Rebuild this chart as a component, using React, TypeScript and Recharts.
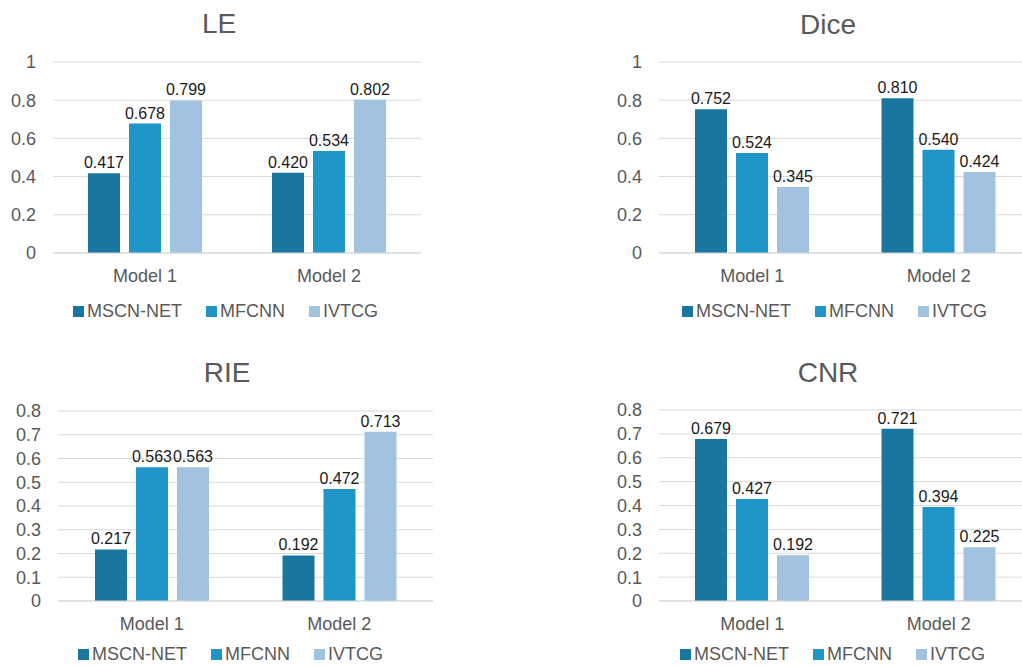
import React from 'react';
import { BarChart, Bar, XAxis, YAxis, CartesianGrid, LabelList } from 'recharts';

const models = ['Model 1', 'Model 2'];
const seriesNames = ['MSCN-NET', 'MFCNN', 'IVTCG'];
const seriesColors = ['#19769f', '#1f95c8', '#a2c3df'];

const leMscn = [0.417, 0.42];
const leMfcnn = [0.678, 0.534];
const leIvtcg = [0.799, 0.802];

const diceMscn = [0.752, 0.81];
const diceMfcnn = [0.524, 0.54];
const diceIvtcg = [0.345, 0.424];

const rieMscn = [0.217, 0.192];
const rieMfcnn = [0.563, 0.472];
const rieIvtcg = [0.563, 0.713];

const cnrMscn = [0.679, 0.721];
const cnrMfcnn = [0.427, 0.394];
const cnrIvtcg = [0.192, 0.225];

const ticksFifths = [0, 0.2, 0.4, 0.6, 0.8, 1];
const ticksTenths = [0, 0.1, 0.2, 0.3, 0.4, 0.5, 0.6, 0.7, 0.8];

const FONT = '"Liberation Sans", Arial, sans-serif';
const GREY = '#595959';
const GRID = '#d9d9d9';

interface PanelProps {
  title: string;
  series: number[][];
  ticks: number[];
  left: number;
  top: number;
  width: number;
  height: number;
  margin: { top: number; right: number; bottom: number; left: number };
  yWidth: number;
  titleX: number;
  titleBaseline: number;
  legendX: number;
  legendY: number;
}

const Legend: React.FC<{ x: number; y: number }> = ({ x, y }) => (
  <div style={{ position: 'absolute', left: x, top: y - 10, display: 'flex', alignItems: 'center', height: 20 }}>
    {seriesNames.map((name, i) => (
      <div key={name} style={{ display: 'flex', alignItems: 'center', marginRight: 24 }}>
        <span style={{ width: 11, height: 11, background: seriesColors[i], marginRight: 3, display: 'inline-block' }} />
        <span style={{ fontSize: 18, color: GREY, lineHeight: '20px' }}>{name}</span>
      </div>
    ))}
  </div>
);

const Panel: React.FC<PanelProps> = (p) => {
  const data = models.map((m, i) => ({
    model: m,
    s0: p.series[0][i],
    s1: p.series[1][i],
    s2: p.series[2][i],
  }));
  const max = p.ticks[p.ticks.length - 1];

  return (
    <>
      <div
        style={{
          position: 'absolute',
          left: p.titleX - 100,
          width: 200,
          top: p.titleBaseline - 24,
          textAlign: 'center',
          fontSize: 28,
          lineHeight: '28px',
          color: GREY,
        }}
      >
        {p.title}
      </div>
      <div style={{ position: 'absolute', left: p.left, top: p.top }}>
        <BarChart width={p.width} height={p.height} data={data} margin={p.margin} barSize={32} barGap={9}>
          <CartesianGrid vertical={false} stroke={GRID} />
          <XAxis
            dataKey="model"
            height={30}
            tickLine={false}
            tickSize={6}
            tickMargin={10}
            axisLine={{ stroke: GRID }}
            tick={{ fill: GREY, fontSize: 18 }}
          />
          <YAxis
            width={p.yWidth}
            domain={[0, max]}
            ticks={p.ticks}
            interval={0}
            tickLine={false}
            axisLine={false}
            tickSize={6}
            tickMargin={11}
            tick={{ fill: GREY, fontSize: 18 }}
            tickFormatter={(v: number) => String(v)}
          />
          {seriesNames.map((name, i) => (
            <Bar key={name} dataKey={`s${i}`} name={name} fill={seriesColors[i]} isAnimationActive={false}>
              <LabelList
                dataKey={`s${i}`}
                position="top"
                offset={5}
                fill="#1a1a1a"
                fontSize={16}
                formatter={(v: number) => v.toFixed(3)}
              />
            </Bar>
          ))}
        </BarChart>
      </div>
      <Legend x={p.legendX} y={p.legendY} />
    </>
  );
};

export default function App() {
  return (
    <div
      style={{
        position: 'absolute',
        left: 0,
        top: 0,
        width: 1022,
        height: 666,
        overflow: 'hidden',
        background: '#fff',
        fontFamily: FONT,
      }}
    >
      <Panel
        title="LE"
        series={[leMscn, leMfcnn, leIvtcg]}
        ticks={ticksFifths}
        left={0}
        top={0}
        width={460}
        height={330}
        margin={{ top: 62, right: 39, bottom: 47, left: 0 }}
        yWidth={53}
        titleX={219}
        titleBaseline={34}
        legendX={73}
        legendY={311}
      />
      <Panel
        title="Dice"
        series={[diceMscn, diceMfcnn, diceIvtcg]}
        ticks={ticksFifths}
        left={600}
        top={0}
        width={440}
        height={330}
        margin={{ top: 62, right: 8, bottom: 47, left: 0 }}
        yWidth={59}
        titleX={828}
        titleBaseline={35}
        legendX={682}
        legendY={311}
      />
      <Panel
        title="RIE"
        series={[rieMscn, rieMfcnn, rieIvtcg]}
        ticks={ticksTenths}
        left={0}
        top={350}
        width={460}
        height={316}
        margin={{ top: 61, right: 27, bottom: 35, left: 0 }}
        yWidth={58}
        titleX={227}
        titleBaseline={383}
        legendX={78}
        legendY={654}
      />
      <Panel
        title="CNR"
        series={[cnrMscn, cnrMfcnn, cnrIvtcg]}
        ticks={ticksTenths}
        left={600}
        top={350}
        width={440}
        height={316}
        margin={{ top: 60, right: 8, bottom: 35, left: 0 }}
        yWidth={59}
        titleX={828}
        titleBaseline={383}
        legendX={680}
        legendY={654}
      />
    </div>
  );
}
